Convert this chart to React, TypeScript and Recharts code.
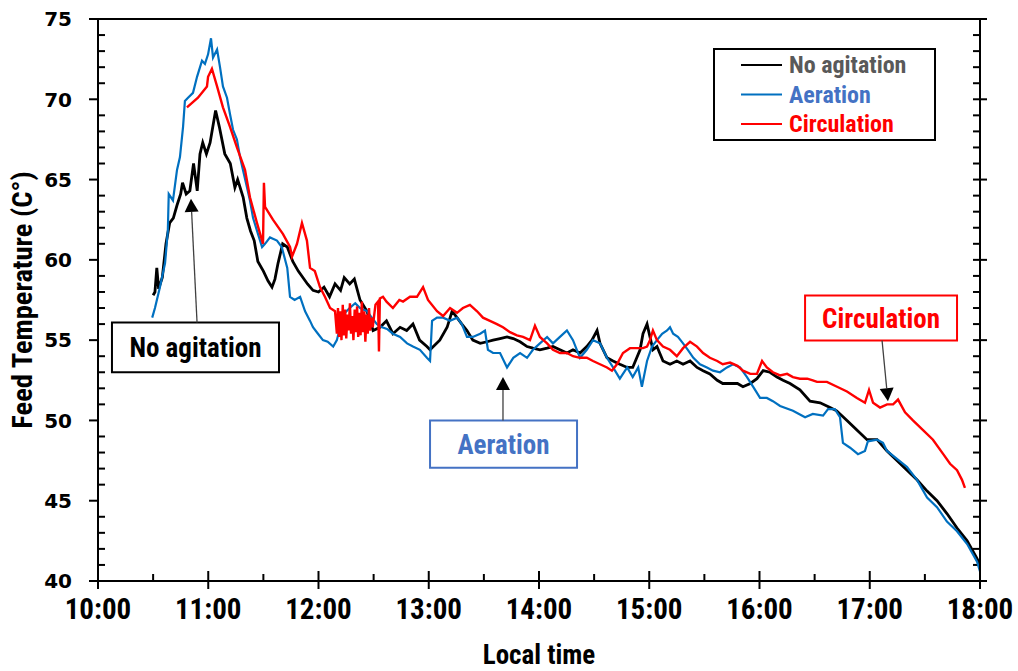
import React from "react";
import {
  LineChart,
  Line,
  XAxis,
  YAxis,
  Legend,
  ReferenceArea,
  ReferenceLine,
} from "recharts";

// minutes after 10:00 / feed temperature in °C
const noAgitationTime = [
  30, 31, 32, 33, 35, 37, 39, 41, 43, 45, 46, 48, 50, 52, 54, 55.5, 57, 59, 61, 64,
  66, 69, 72, 74.5, 76, 79, 81, 83, 85, 87, 90, 92.5, 94.7, 96.3, 98, 100.5, 103, 106,
  109, 111.5, 114, 117, 120, 123, 126, 129, 132, 134, 137, 139.5, 142.6, 146.4, 149.7,
  153.5, 157, 160.5, 164.4, 168, 171.4, 175, 179, 180.7, 186, 190, 192.7, 195.4, 198,
  200.8, 204, 208, 211.7, 215, 218.8, 222.6, 226, 229.7, 233.5, 236.7, 240.5, 244.4,
  247.6, 251.4, 255.2, 258.5, 262.3, 266, 268.8, 271.6, 273.2, 277, 280.3, 284, 288,
  291, 295, 296.6, 298.8, 300.4, 302, 304.2, 307.5, 311.3, 315, 318.4, 322.2, 326,
  329.3, 333, 337, 340, 344, 348, 351, 355, 358.6, 362, 365.7, 369.5, 372.8, 376.6,
  382, 387.5, 393, 398.4, 402, 407.6, 413, 418.5, 424, 429.4, 434.8, 440.3, 445.7,
  451.2, 456.6, 462, 467.5, 473, 478.4, 480,
];
const noAgitationTemp = [
  57.8, 58.0, 59.5, 58.2, 58.9, 61.0, 62.3, 62.6, 63.4, 64.1, 64.8, 64.1, 64.3, 66.0,
  64.3, 66.6, 67.3, 66.6, 67.3, 69.3, 68.3, 66.6, 66.0, 64.5, 65.0, 63.9, 62.6, 61.8,
  61.2, 59.9, 59.3, 58.7, 58.3, 58.8, 59.8, 61.0, 60.8, 59.9, 59.3, 58.9, 58.5, 58.1,
  58.0, 58.3, 57.7, 58.5, 58.1, 58.9, 58.5, 58.8, 57.5, 56.8, 55.6, 55.8, 56.2, 55.4,
  55.8, 55.6, 56.0, 55.0, 54.6, 54.4, 55.0, 55.8, 56.8, 56.4, 56.0, 55.6, 55.0, 54.8,
  54.9, 55.0, 55.1, 55.2, 55.1, 54.9, 54.6, 54.5, 54.4, 54.5, 54.6, 54.4, 54.2, 54.4,
  54.2, 54.6, 55.0, 55.6, 54.8, 53.9, 53.7, 53.5, 53.3, 53.3, 54.4, 55.4, 56.0, 55.2,
  54.4, 54.6, 53.7, 53.5, 53.7, 53.5, 53.7, 53.3, 53.1, 52.9, 52.5, 52.3, 52.3, 52.3,
  52.1, 52.3, 52.6, 53.1, 53.0, 52.7, 52.5, 52.3, 51.9, 51.2, 51.1, 50.8, 50.6, 50.0,
  49.4, 48.8, 48.8, 48.1, 47.5, 46.9, 46.3, 45.6, 45.0, 44.2, 43.3, 42.5, 41.4, 41.0,
];

const aerationTime = [
  29.5, 31, 33.7, 36.5, 38, 38.5, 40.8, 43, 44.6, 46.3, 47.3, 49, 51.7, 53.9, 56.6, 58.2,
  59.9, 61.5, 62.6, 64.8, 66.4, 68, 70.2, 71.8, 73.5, 75.6, 77.3, 78.9, 81.1, 82.7, 84.4,
  87.1, 89.3, 90.9, 93.6, 97.4, 100, 103, 104.5, 107, 110, 112.7, 115.4, 117, 119.7,
  122.4, 125, 128, 130, 131.7, 134.4, 137, 140, 142.6, 146.4, 149, 151.8, 154.6, 157.3,
  160.5, 164.4, 168.2, 171.4, 175.2, 179, 180.7, 181.8, 184.5, 187.8, 191.6, 195.4, 198,
  200.8, 204, 208, 210.6, 212.2, 215, 218.8, 222.6, 226, 229.7, 233.5, 236.7, 240.5,
  244.4, 247.6, 251.4, 255.2, 258.5, 262.3, 266, 269.4, 273.2, 277, 280.3, 284, 288,
  291, 294, 296, 298.8, 301.5, 304.2, 307, 309.7, 311.3, 313, 315.6, 318.4, 321, 324,
  327.6, 331.4, 334.7, 338.5, 342.3, 345.6, 349.4, 353.2, 356.5, 360.3, 364, 367.3,
  371.2, 378.2, 384.8, 389, 394.6, 397.3, 401, 403.8, 405.4, 409.3, 413.6, 417.4, 419,
  424, 427.2, 429.4, 434.8, 440.3, 445.7, 451.2, 456.6, 462, 467.5, 473, 478.4, 480,
];
const aerationTemp = [
  56.4, 57.0, 58.3, 59.8, 61.8, 64.1, 63.7, 65.6, 66.4, 68.3, 69.9, 70.1, 70.4, 71.4,
  72.4, 72.2, 72.8, 73.8, 72.6, 73.1, 72.0, 70.8, 70.1, 69.1, 68.1, 67.5, 66.4, 65.6,
  64.5, 63.7, 62.6, 61.6, 60.8, 61.0, 61.4, 61.2, 60.8, 59.5, 57.7, 57.5, 57.7, 56.8,
  56.2, 55.8, 55.4, 55.0, 54.9, 54.6, 55.0, 55.8, 56.7, 57.0, 57.3, 57.0, 56.8, 56.4,
  56.0, 55.8, 55.7, 55.4, 55.2, 54.8, 54.6, 54.4, 53.9, 53.7, 56.2, 56.4, 56.4, 56.2,
  56.4, 56.0, 55.2, 55.2, 55.4, 55.6, 54.4, 54.2, 54.2, 53.3, 53.9, 54.2, 53.9, 54.4,
  54.8, 55.2, 54.8, 55.2, 55.6, 55.0, 53.9, 54.4, 55.0, 54.8, 53.9, 53.3, 52.6, 53.3,
  52.7, 53.3, 52.1, 53.7, 54.6, 55.0, 55.4, 55.6, 55.8, 55.4, 55.2, 54.8, 54.4, 53.9,
  53.5, 53.3, 53.1, 53.0, 53.3, 53.5, 53.3, 52.7, 52.1, 51.4, 51.4, 51.2, 50.9, 50.6,
  50.2, 50.4, 50.3, 50.7, 50.7, 50.2, 48.6, 48.3, 47.9, 48.1, 48.7, 48.8, 48.6, 48.1,
  47.6, 47.1, 46.3, 45.2, 44.6, 43.7, 43.1, 42.3, 41.2, 40.6,
];

const circulationTime = [
  48.4, 54.4, 59.3, 59.9, 62, 64.8, 68, 71.8, 75.6, 80, 82.7, 86.5, 89.8, 90.3, 90.9,
  95.2, 100.7, 104.5, 105.6, 108.3, 111, 113.7, 115.4, 118, 120.8, 123.5, 126.3, 129,
  130, 130.6, 131.2, 131.9, 132.5, 133.2, 133.8, 134.5, 135.1, 135.8, 136.4, 137.1,
  137.7, 138.4, 139, 139.7, 140.3, 141, 141.6, 142.3, 142.9, 143.6, 144.2, 144.9, 145.5,
  146.2, 146.8, 147.5, 148.1, 148.8, 149.5, 151, 152.4, 152.9, 153.4, 155.1, 157, 160.5,
  164, 166, 169.8, 173.6, 176.9, 179.6, 184.5, 187.8, 191.6, 195.4, 198.6, 202.4, 206.3,
  209.5, 213.3, 217.1, 220.4, 224.2, 228, 231.3, 235.1, 237.8, 240.5, 244.4, 247.6,
  251.4, 255.2, 258.5, 262.3, 266, 269.4, 273.2, 277, 279.7, 282.4, 285.7, 289.5, 293.3,
  296.6, 298.8, 300.4, 302, 304.2, 307.5, 311.3, 315, 318.4, 322.2, 326, 329.3, 333,
  337, 340, 344, 348, 351, 355, 358.6, 361.4, 364, 367.3, 371.2, 375, 378.2, 382, 386,
  389, 391.3, 396.7, 402.2, 407.6, 413, 417.4, 419.6, 421.8, 425.6, 429.4, 432.7, 435.4,
  439.2, 443.5, 449, 454.4, 460, 463.7, 467.5, 470.2, 471.8,
];
const circulationTemp = [
  69.5, 70.1, 70.8, 71.4, 71.9, 70.8, 69.5, 68.3, 67.0, 65.6, 63.9, 62.3, 61.0, 64.8,
  63.3, 62.5, 61.6, 60.8, 60.2, 61.0, 62.3, 61.2, 59.5, 59.3, 58.3, 57.7, 57.0, 56.8,
  55.4, 57.0, 55.2, 56.8, 55.0, 57.2, 55.3, 56.9, 55.1, 56.6, 55.6, 57.3, 55.4, 56.5,
  55.0, 56.9, 55.5, 57.1, 55.2, 56.7, 55.3, 57.4, 55.5, 56.8, 54.9, 56.6, 55.4, 57.0,
  55.6, 56.4, 55.8, 57.2, 57.4, 54.3, 57.6, 57.7, 57.4, 57.0, 57.5, 57.4, 57.7, 57.7,
  58.3, 57.5, 56.8, 56.5, 57.0, 56.7, 57.0, 57.2, 56.8, 56.4, 56.2, 56.0, 55.8, 55.5,
  55.3, 55.2, 55.0, 55.9, 55.2, 54.8, 54.4, 54.2, 54.2, 54.0, 53.9, 53.9, 53.7, 53.5,
  53.3, 53.1, 53.5, 54.2, 54.5, 54.5, 54.5, 54.6, 55.0, 55.6, 55.0, 54.6, 54.4, 54.0,
  54.5, 54.9, 54.6, 54.2, 53.9, 53.7, 53.5, 53.6, 53.4, 53.1, 52.9, 52.9, 53.7, 53.3,
  53.0, 52.8, 52.9, 52.7, 52.6, 52.6, 52.5, 52.4, 52.4, 52.1, 51.8, 51.4, 51.1, 51.9,
  51.1, 50.8, 51.0, 51.0, 51.3, 50.5, 50.0, 49.4, 48.8, 47.9, 47.3, 46.9, 46.3, 45.8,
];

const TIME_TICKS = [0, 30, 60, 90, 120, 150, 180, 210, 240, 270, 300, 330, 360, 390, 420, 450, 480];
const TEMP_TICKS = Array.from({ length: 36 }, (_, i) => 40 + i);

const toPoints = (time: number[], temp: number[]) => time.map((t, i) => ({ t, v: temp[i] }));

const series = [
  { name: "No agitation", data: toPoints(noAgitationTime, noAgitationTemp), color: "#000000", textColor: "#595959", width: 2.8 },
  { name: "Aeration", data: toPoints(aerationTime, aerationTemp), color: "#0070C0", textColor: "#4472C4", width: 2.2 },
  { name: "Circulation", data: toPoints(circulationTime, circulationTemp), color: "#FF0000", textColor: "#FF0000", width: 2.4 },
];

const NARROW = "'Liberation Sans Narrow', 'Arial Narrow', 'Roboto Condensed', sans-serif";
const AXIS = "#000";
const AXIS_W = 2;
const T_MIN = 0;
const T_MAX = 480;
const V_MIN = 40;
const V_MAX = 75;

// two anchor points well inside the plot; the tick frame is extended from them
const ANCHOR_A = { x: 60, y: 45 };
const ANCHOR_B = { x: 420, y: 70 };

const formatTime = (m: number) => `${10 + Math.round(m / 60)}:00`;

const renderTimeLabel = (p: any) =>
  p.payload.value % 60 === 0 ? (
    <text key={`t-${p.payload.value}`} x={p.x} y={Number(p.y) + 38} textAnchor="middle" fontFamily={NARROW} fontWeight="bold" fontSize={29} fill="#000">
      {formatTime(p.payload.value)}
    </text>
  ) : (
    <g key={`t-${p.payload.value}`} />
  );

const renderTempLabel = (p: any) =>
  p.payload.value % 5 === 0 ? (
    <text key={`l-${p.payload.value}`} x={Number(p.x) - 26} y={Number(p.y) + 7.3} textAnchor="end" fontFamily="'DejaVu Sans', sans-serif" fontWeight="bold" fontSize={20} fill="#000">
      {p.payload.value}
    </text>
  ) : (
    <g key={`l-${p.payload.value}`} />
  );

// every tick mark of the frame, drawn as the shape of one in-range reference segment
const AxisTicks = (props: any) => {
  const xa = Number(props.x1);
  const ya = Number(props.y1);
  const xb = Number(props.x2);
  const yb = Number(props.y2);
  const px = (t: number) => xa + ((t - ANCHOR_A.x) / (ANCHOR_B.x - ANCHOR_A.x)) * (xb - xa);
  const py = (v: number) => ya + ((v - ANCHOR_A.y) / (ANCHOR_B.y - ANCHOR_A.y)) * (yb - ya);
  const left = px(T_MIN);
  const right = px(T_MAX);
  const bottom = py(V_MIN);
  const marks: React.ReactNode[] = [];
  TIME_TICKS.forEach((t) => {
    const x = px(t);
    const major = t % 60 === 0;
    marks.push(<line key={`bx${t}`} x1={x} x2={x} y1={bottom - (major ? 10 : 7)} y2={bottom + (major ? 8 : 0)} stroke="#000" strokeWidth={AXIS_W} />);
  });
  TEMP_TICKS.forEach((v) => {
    const y = py(v);
    const major = v % 5 === 0;
    marks.push(<line key={`ly${v}`} x1={major ? left - 9 : left} x2={major ? left : left + 7} y1={y} y2={y} stroke="#000" strokeWidth={AXIS_W} />);
    marks.push(<line key={`ry${v}`} x1={right - 7} x2={major ? right + 7 : right} y1={y} y2={y} stroke="#000" strokeWidth={AXIS_W} />);
  });
  return <g>{marks}</g>;
};

const Arrow = (props: any) => {
  const { x1, y1, x2, y2 } = props;
  const dx = x2 - x1;
  const dy = y2 - y1;
  const len = Math.hypot(dx, dy) || 1;
  const ux = dx / len;
  const uy = dy / len;
  const bx = x2 - ux * 13;
  const by = y2 - uy * 13;
  const pts = `${x2},${y2} ${bx - uy * 7},${by + ux * 7} ${bx + uy * 7},${by - ux * 7}`;
  return (
    <g>
      <line x1={x1} y1={y1} x2={bx} y2={by} stroke="#404040" strokeWidth={1.3} />
      <polygon points={pts} fill="#000" />
    </g>
  );
};

const LegendBox = () => (
  <svg width={224} height={94}>
    <rect x={1} y={1} width={221} height={91} fill="#fff" stroke="#000" strokeWidth={2} />
    {series.map((s, i) => {
      const cy = 17 + i * 29.5;
      return (
        <g key={s.name}>
          <line x1={28} x2={69} y1={cy} y2={cy} stroke={s.color} strokeWidth={2} />
          <text x={76} y={cy + 8} fontFamily={NARROW} fontWeight="bold" fontSize={24} fill={s.textColor}>
            {s.name}
          </text>
        </g>
      );
    })}
  </svg>
);

const labelStyle = (color: string) => ({
  position: "center" as const,
  fill: color,
  fontSize: 27,
  fontWeight: "bold",
  fontFamily: NARROW,
});

export default function App() {
  return (
    <div style={{ position: "absolute", left: 0, top: 0, width: 1018, height: 671, background: "#fff" }}>
      <LineChart width={1018} height={671} margin={{ top: 19, right: 28, bottom: 30, left: 38 }}>
        <XAxis
          dataKey="t"
          type="number"
          domain={[T_MIN, T_MAX]}
          ticks={TIME_TICKS}
          interval={0}
          allowDataOverflow
          height={60}
          tickSize={0}
          tickMargin={0}
          tickLine={false}
          tick={renderTimeLabel}
          axisLine={{ stroke: AXIS, strokeWidth: AXIS_W }}
          label={{
            content: ({ viewBox }: any) => (
              <text x={viewBox.x + viewBox.width / 2} y={viewBox.y + 83} textAnchor="middle" fontFamily={NARROW} fontWeight="bold" fontSize={27} fill="#000">
                Local time
              </text>
            ),
          }}
        />
        <YAxis
          yAxisId="temp"
          type="number"
          domain={[V_MIN, V_MAX]}
          ticks={TEMP_TICKS}
          interval={0}
          width={60}
          tickSize={0}
          tickMargin={0}
          tickLine={false}
          tick={renderTempLabel}
          axisLine={{ stroke: AXIS, strokeWidth: AXIS_W }}
          label={{
            content: ({ viewBox }: any) => {
              const cx = viewBox.x - 16;
              const cy = viewBox.y + viewBox.height / 2;
              return (
                <text x={cx} y={cy} transform={`rotate(-90 ${cx} ${cy})`} textAnchor="middle" dominantBaseline="central" fontFamily={NARROW} fontWeight="bold" fontSize={28.5} fill="#000">
                  Feed Temperature (C°)
                </text>
              );
            },
          }}
        />
        <YAxis
          yAxisId="tempRight"
          orientation="right"
          type="number"
          domain={[V_MIN, V_MAX]}
          width={10}
          tick={false}
          tickLine={false}
          axisLine={{ stroke: AXIS, strokeWidth: AXIS_W }}
        />
        <ReferenceLine yAxisId="temp" y={V_MAX} stroke={AXIS} strokeWidth={AXIS_W} />
        <ReferenceLine yAxisId="temp" segment={[ANCHOR_A, ANCHOR_B]} shape={AxisTicks} />

        {series.map((s) => (
          <Line
            key={s.name}
            yAxisId="temp"
            data={s.data}
            dataKey="v"
            name={s.name}
            type="linear"
            stroke={s.color}
            strokeWidth={s.width}
            dot={false}
            activeDot={false}
            isAnimationActive={false}
          />
        ))}

        <ReferenceArea yAxisId="temp" x1={7.6} x2={98.5} y1={53.0} y2={56.1} fill="#fff" fillOpacity={1} stroke="#000" strokeWidth={2} label={{ value: "No agitation", ...labelStyle("#000") }} />
        <ReferenceArea yAxisId="temp" x1={180.7} x2={260.7} y1={47.05} y2={50.0} fill="#fff" fillOpacity={1} stroke="#4472C4" strokeWidth={2} label={{ value: "Aeration", ...labelStyle("#4472C4") }} />
        <ReferenceArea yAxisId="temp" x1={384.8} x2={467.5} y1={54.98} y2={57.78} fill="#fff" fillOpacity={1} stroke="#FF0000" strokeWidth={2} label={{ value: "Circulation", ...labelStyle("#FF0000") }} />

        <ReferenceLine yAxisId="temp" segment={[{ x: 53.9, y: 56.1 }, { x: 50.6, y: 63.8 }]} shape={Arrow} />
        <ReferenceLine yAxisId="temp" segment={[{ x: 220.4, y: 50.0 }, { x: 220.4, y: 52.7 }]} shape={Arrow} />
        <ReferenceLine yAxisId="temp" segment={[{ x: 426.7, y: 54.98 }, { x: 429.9, y: 51.2 }]} shape={Arrow} />

        <Legend
          layout="horizontal"
          verticalAlign="middle"
          align="center"
          content={<LegendBox />}
          wrapperStyle={{ position: "absolute", left: 713, top: 48, width: 224, height: 94 }}
        />
      </LineChart>
    </div>
  );
}
